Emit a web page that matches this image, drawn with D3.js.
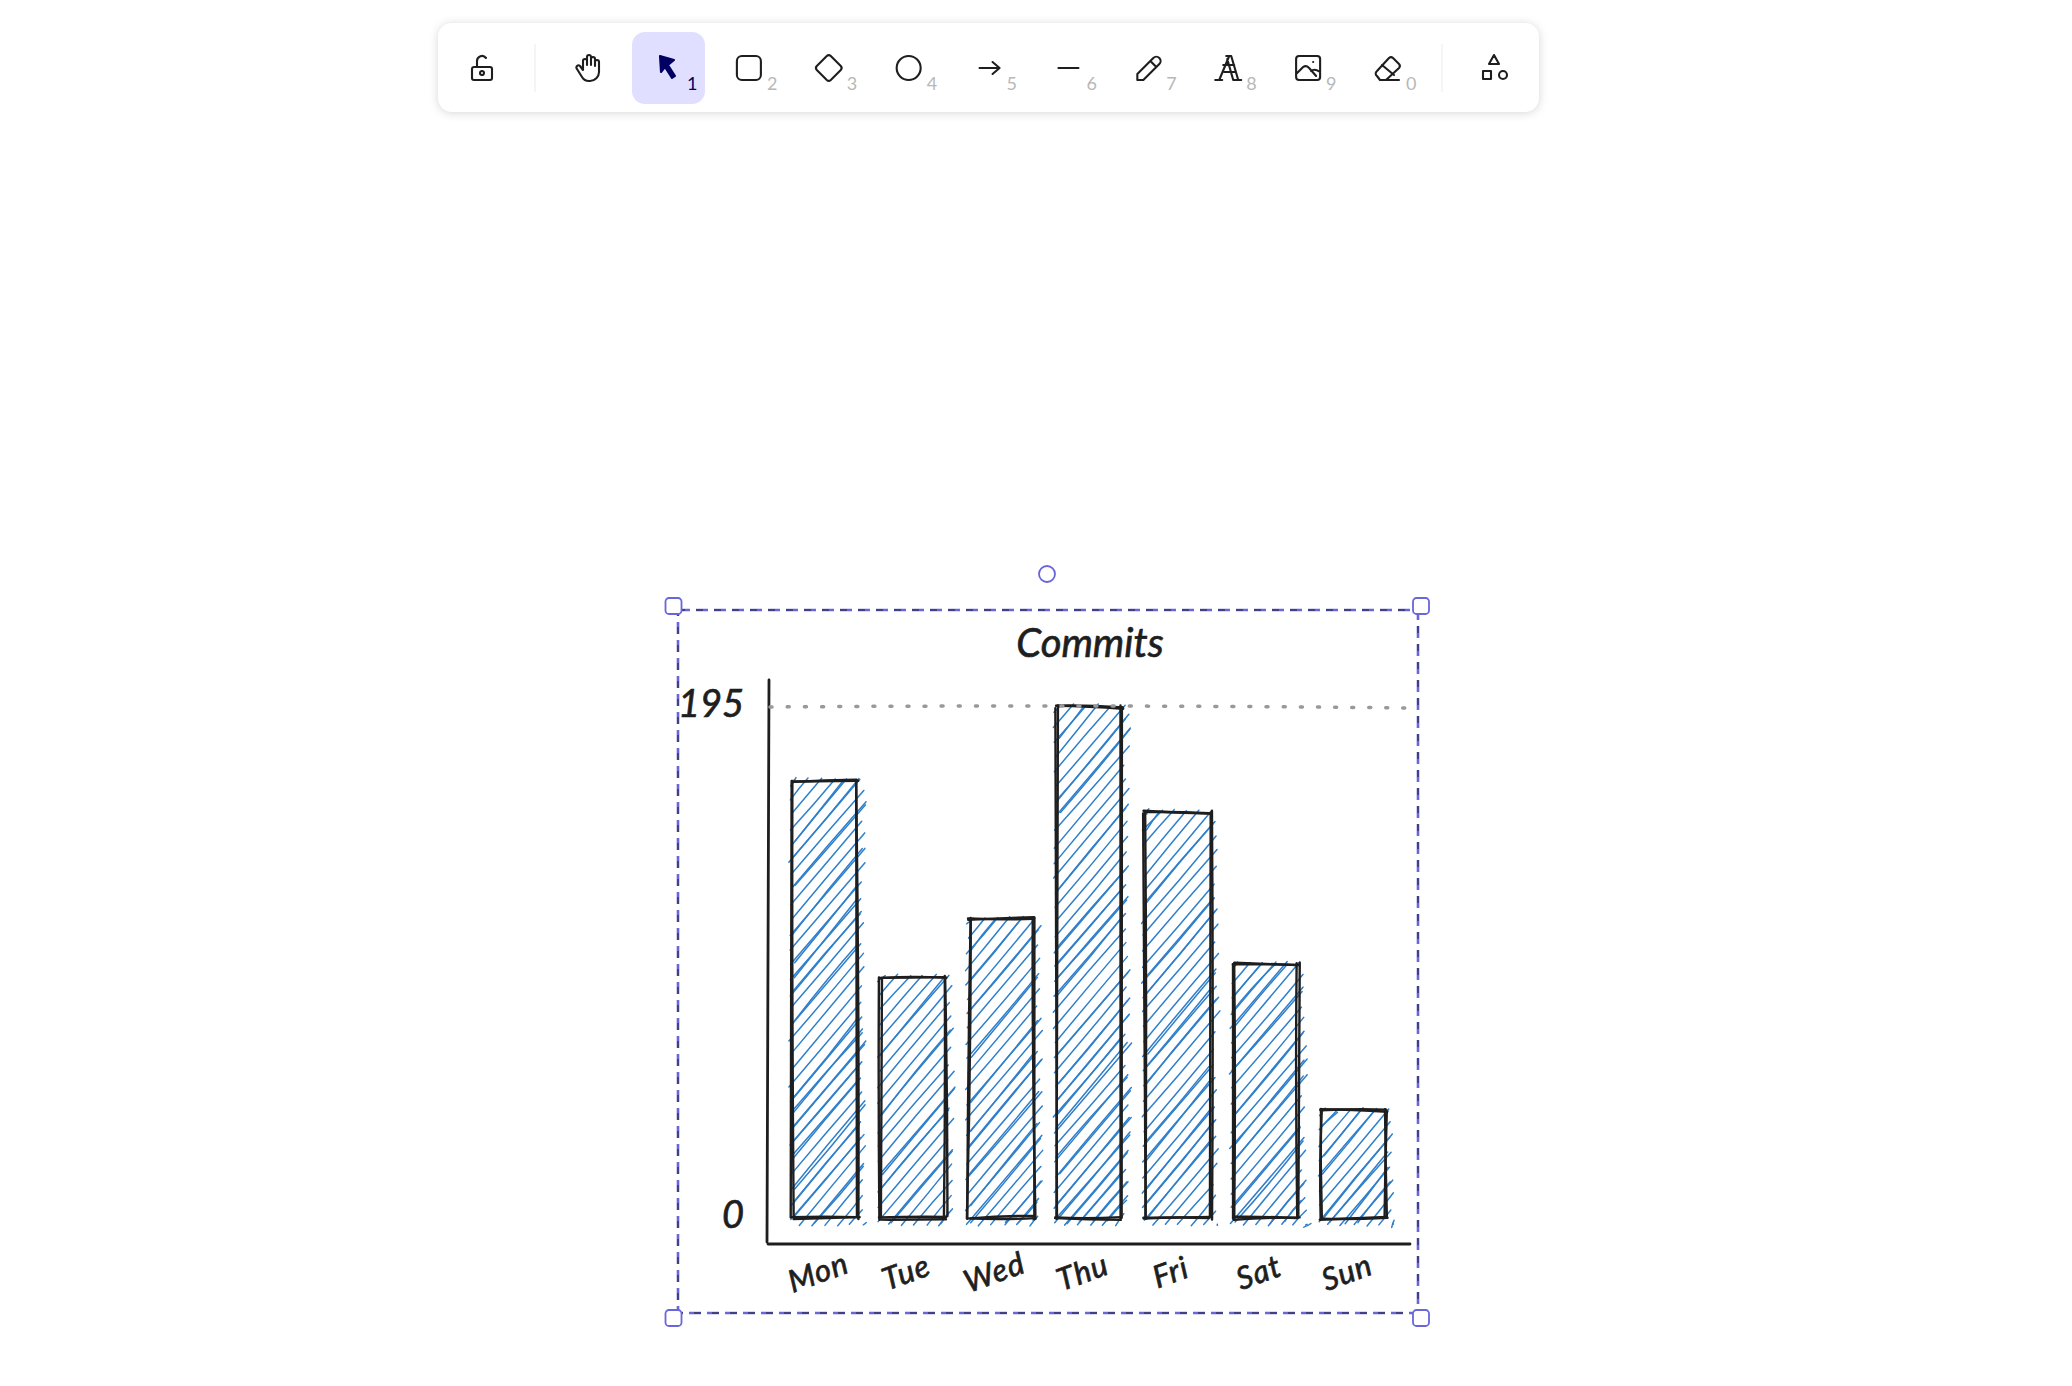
<!DOCTYPE html>
<html>
<head>
<meta charset="utf-8">
<script src="https://cdn.jsdelivr.net/npm/d3@7"></script>
<style>
  html, body { margin: 0; background: #fff; }
  text { font-family: "Lato", sans-serif; }
</style>
</head>
<body>
<div id="canvas"></div>
<script>
const days = ["Mon", "Tue", "Wed", "Thu", "Fri", "Sat", "Sun"];
const commits = [167, 92, 114, 195, 155, 97, 41];
const yTicks = [0, 195];
const title = "Commits";
const toolHints = ["1", "2", "3", "4", "5", "6", "7", "8", "9", "0"];

const width = 2072;
const height = 1386;
const ink = "#1e1e1e";
const hatchColor = "#2f7fcb";
const selectColor = "#6965db";

const svg = d3.select("#canvas").append("svg")
  .attr("width", width)
  .attr("height", height)
  .style("display", "block");

// hand drawn wobble, same every run
const wob = (i) => {
  const s = Math.sin(i * 12.9898 + 4.1) * 43758.5453;
  return (s - Math.floor(s)) * 2 - 1;
};
let seed = 1;
const next = (amp) => wob(seed++) * amp;

const rough = (x1, y1, x2, y2, amp = 1.5) => {
  const ax = x1 + next(amp), ay = y1 + next(amp);
  const bx = x2 + next(amp), by = y2 + next(amp);
  const mx = (ax + bx) / 2 + next(amp), my = (ay + by) / 2 + next(amp);
  return `M${ax},${ay}Q${mx},${my} ${bx},${by}`;
};

// toolbar
const bar = svg.append("g");
bar.append("rect")
  .attr("x", 438).attr("y", 23).attr("width", 1101).attr("height", 89).attr("rx", 14)
  .attr("fill", "#fff")
  .style("filter", "drop-shadow(0 1px 5px rgba(0,0,0,0.16))");
bar.selectAll("line.sep").data([535, 1442]).enter().append("line")
  .attr("x1", (d) => d).attr("x2", (d) => d).attr("y1", 44).attr("y2", 92)
  .attr("stroke", "#eeeef6").attr("stroke-width", 1.3);
bar.append("rect")
  .attr("x", 632).attr("y", 32).attr("width", 73).attr("height", 72).attr("rx", 13)
  .attr("fill", "#e0dfff");

const toolX = d3.scaleLinear().domain([0, 9]).range([669, 1388]);
const icon = (x, paths, fill) => {
  const g = bar.append("g").attr("transform", `translate(${x},68)`)
    .attr("fill", fill || "none").attr("stroke", fill || ink)
    .attr("stroke-width", 2.1).attr("stroke-linecap", "round").attr("stroke-linejoin", "round");
  paths.forEach((d) => g.append("path").attr("d", d));
  return g;
};
const toolIcons = [
  ["M-9,-12L5,-8L-1,-3L6,8L3,10L-4,-1L-8,4Z"],
  ["M-12,-7a5,5 0 0 1 5,-5h14a5,5 0 0 1 5,5v14a5,5 0 0 1 -5,5h-14a5,5 0 0 1 -5,-5Z"],
  ["M-2,-12L-12,-2a3,3 0 0 0 0,4L-2,12a3,3 0 0 0 4,0L12,2a3,3 0 0 0 0,-4L2,-12a3,3 0 0 0 -4,0Z"],
  ["M-12,0a12,12 0 1 0 24,0a12,12 0 1 0 -24,0"],
  ["M-9,0H11M4,-6L11,0L4,6"],
  ["M-10,0H10"],
  ["M-11,12L-11,6L5,-10a4,4 0 0 1 6,6L-5,12ZM2,-7L8,-1"],
  ["M-13,12H-6M5,12H13M-9,12L1,-12H3L10,12M-5,-3H6M-2,-12H3M-4,4H7M-1,-9L5,12"],
  ["M-12,-9a3,3 0 0 1 3,-3h18a3,3 0 0 1 3,3v18a3,3 0 0 1 -3,3h-18a3,3 0 0 1 -3,-3ZM-12,6L-5,-1Q-2,-3 1,0L8,8M3,3Q6,0 12,4M5,-6h.1"],
  ["M-11,3L1,-10a3,3 0 0 1 4,0L11,-4a3,3 0 0 1 0,4L-2,12H-8L-11,8a3,3 0 0 1 0,-5ZM-6,-3L6,7M-8,12H11"]
];
toolIcons.forEach((d, i) => {
  const sel = i === 0;
  const x = toolX(i);
  icon(x, d, sel ? "#030064" : null);
  bar.append("text")
    .attr("x", x + 18).attr("y", 90)
    .attr("font-size", 18).attr("fill", sel ? "#030064" : "#b8b8b8")
    .attr("font-family", "Noto Sans")
    .text(toolHints[i]);
});
icon(482, ["M-8,-1h16a2,2 0 0 1 2,2v9a2,2 0 0 1 -2,2h-16a2,2 0 0 1 -2,-2v-9a2,2 0 0 1 2,-2ZM-5,-1v-6a5,5 0 0 1 9,-3M-2,5a2,2 0 1 0 4,0a2,2 0 1 0 -4,0"]);
icon(589, ["M-6,2V-7a2,2 0 0 1 4,0V-3M-2,-3V-11a2,2 0 0 1 4,0V-3M2,-3V-9a2,2 0 0 1 4,0V-2M6,-2V-6a2,2 0 0 1 4,0V4a9,9 0 0 1 -9,9H0a8,8 0 0 1 -7,-4L-12,1a2,2 0 0 1 3,-3L-6,2"]);
icon(1494, ["M0,-13L5,-4H-5ZM-11,3h8v8h-8ZM5,7a4,4 0 1 0 8,0a4,4 0 1 0 -8,0"]);

// selection box around the chart
const box = { left: 678, right: 1418, top: 610, bottom: 1313 };
const boxPath = `M${box.left},${box.top}H${box.right}V${box.bottom}H${box.left}Z`;
svg.append("path").attr("d", boxPath).attr("fill", "none")
  .attr("stroke", selectColor).attr("stroke-width", 2.6).attr("stroke-dasharray", "12 6");
svg.append("path").attr("d", boxPath).attr("fill", "none")
  .attr("stroke", ink).attr("stroke-width", 1).attr("stroke-dasharray", "7 11");

// chart
const xScale = d3.scaleBand().domain(days).range([770, 1409]).paddingInner(0.26).paddingOuter(0.255);
const yScale = d3.scaleLinear().domain([0, 195]).range([1218, 707]);

const g = svg.append("g");

const hatch = g.append("g").attr("fill", "none").attr("stroke", hatchColor)
  .attr("stroke-width", 1.5).attr("stroke-linecap", "round");
const outline = g.append("g").attr("fill", "none").attr("stroke", ink)
  .attr("stroke-width", 2.4).attr("stroke-linecap", "round");

const slope = 1.18;
const hachure = (x0, x1, y0, y1) => {
  const xa = x0 - 3, xb = x1 + 9, ya = y0 - 2, yb = y1 + 7;
  const lines = [];
  for (let c = ya + slope * xa + 8; c < yb + slope * xb; c += 15) {
    // c = y + slope * x
    let l = xa + Math.abs(next(2)), r = xb - Math.abs(next(7));
    let yl = c - slope * l, yr = c - slope * r;
    if (yl > yb) { yl = yb; l = (c - yb) / slope; }
    if (yr < ya) { yr = ya; r = (c - ya) / slope; }
    if (r <= l) continue;
    lines.push(rough(l, yl, r, yr, 1));
    if (next(1) > 0) lines.push(rough(l + 3, yl - 3, r - 2, yr + 2, 1.8));
  }
  return lines;
};

days.forEach((d, i) => {
  const x0 = xScale(d);
  const x1 = x0 + xScale.bandwidth();
  const y0 = yScale(commits[i]);
  const y1 = yScale(0);
  hatch.selectAll(null).data(hachure(x0, x1, y0, y1)).enter().append("path").attr("d", (p) => p);
  const sides = [[x0, y0, x1, y0], [x1, y0, x1, y1], [x1, y1, x0, y1], [x0, y1, x0, y0]];
  sides.forEach((s) => {
    outline.append("path").attr("d", rough(s[0], s[1], s[2], s[3], 2));
    outline.append("path").attr("d", rough(s[0], s[1], s[2], s[3], 2));
  });
});

// axes lines and max guide
const axisX = 767, axisY = 1244;
const axisLines = g.append("g").attr("fill", "none").attr("stroke", ink)
  .attr("stroke-width", 2.8).attr("stroke-linecap", "round");
axisLines.append("path").attr("d", `M${axisX + 2},680L${axisX},${axisY - 2}`);
axisLines.append("path").attr("d", `M${axisX + 1},${axisY}Q1100,${axisY - 1} 1410,${axisY}`);
g.append("path")
  .attr("d", `M${axisX + 3},${yScale(195)}Q1100,${yScale(195) - 2.5} 1408,${yScale(195) + 1}`)
  .attr("fill", "none").attr("stroke", "#999").attr("stroke-width", 3.5)
  .attr("stroke-linecap", "round").attr("stroke-dasharray", "2 15.1");

// labels
const labelStyle = (sel, size) => sel
  .attr("fill", ink).attr("stroke", ink).attr("stroke-width", 0.7)
  .attr("font-size", size).attr("font-style", "italic").attr("font-family", "Lato");

const xAxis = g.append("g")
  .attr("transform", `translate(-6,${axisY})`)
  .call(d3.axisBottom(xScale).tickSize(0));
xAxis.select(".domain").remove();
xAxis.selectAll("text")
  .attr("y", 0).attr("dy", 0)
  .attr("transform", "translate(0,31) rotate(-20)")
  .attr("text-anchor", "middle").attr("dominant-baseline", "middle")
  .attr("letter-spacing", 1)
  .call(labelStyle, 31);

const yAxis = g.append("g")
  .attr("transform", "translate(744,-3)")
  .call(d3.axisLeft(yScale).tickValues(yTicks).tickFormat(d3.format("d")).tickSize(0).tickPadding(0));
yAxis.select(".domain").remove();
yAxis.selectAll("text").call(labelStyle, 38);

g.append("text")
  .attr("x", 1090).attr("y", 657).attr("text-anchor", "middle")
  .call(labelStyle, 40)
  .text(title);

// resize handles
const handles = [[673.5, 606], [1421, 606], [673.5, 1318], [1421, 1318]];
svg.selectAll("rect.handle").data(handles).enter().append("rect")
  .attr("class", "handle")
  .attr("x", (d) => d[0] - 8).attr("y", (d) => d[1] - 8)
  .attr("width", 16).attr("height", 16).attr("rx", 3.5)
  .attr("fill", "#fff").attr("stroke", selectColor).attr("stroke-width", 1.8);
svg.append("circle")
  .attr("cx", 1047).attr("cy", 574).attr("r", 8)
  .attr("fill", "#fff").attr("stroke", selectColor).attr("stroke-width", 1.8);
</script>
</body>
</html>
